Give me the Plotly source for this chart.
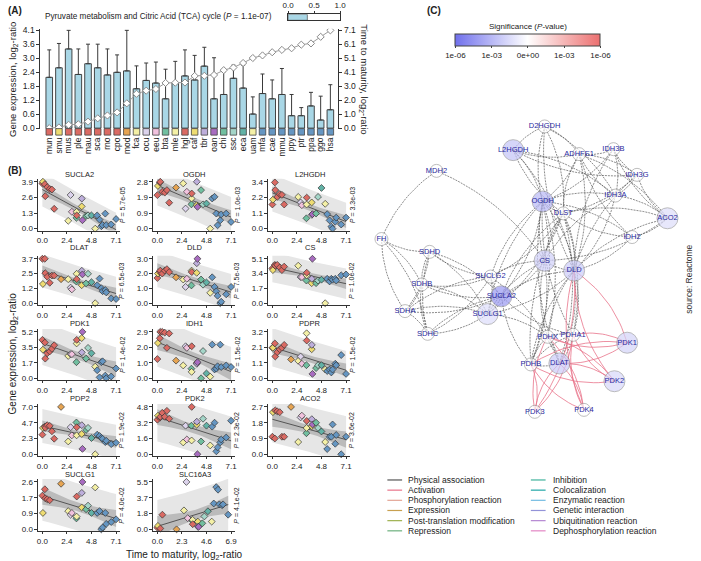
import numpy as np
import plotly.graph_objects as go

W, H = 701, 561
FONT = "Liberation Sans, Arial, Helvetica, sans-serif"
TXT = "#222222"

# ---------------- data: panel A ----------------
species = ["mun", "smu", "mus", "ple", "mau", "sca", "rno", "cpo", "mod", "fca",
           "ocu", "eeu", "bta", "mle", "hgl", "caf", "tbr", "oan", "chi", "ssc",
           "eca", "uam", "mfa", "cae", "mmu", "ppy", "ptr", "ppa", "ggo", "hsa"]
RED, YEL, ORA, LYE = "#DA6A63", "#EEDC72", "#E6A452", "#F4F0A6"
PLAV, PNK, TGR, LAV = "#DCD3EC", "#F1C2DE", "#71BFA0", "#BDAEDB"
PUR, LTE, TEA, BLU = "#A86CC0", "#A4D5C8", "#62B2A6", "#6596C2"
species_color = [RED, YEL, RED, RED, RED, RED, RED, RED, ORA, LYE,
                 PLAV, PNK, TGR, LYE, RED, YEL, LAV, PUR, TGR, LTE,
                 TEA, LYE, BLU, BLU, BLU, BLU, BLU, BLU, BLU, BLU]
expr_mean = [2.13, 2.53, 3.32, 2.25, 2.70, 2.53, 2.23, 2.34, 2.40, 1.65,
             2.00, 1.89, 1.23, 1.91, 2.19, 2.02, 2.60, 1.23, 1.41, 2.09,
             1.68, 0.59, 1.45, 1.23, 1.41, 0.52, 0.52, 0.93, 0.34, 0.77]
expr_upper = [3.28, 3.55, 4.10, 3.32, 3.52, 3.52, 3.32, 3.07, 4.10, 2.61,
              2.73, 2.77, 2.47, 2.80, 3.28, 3.05, 3.39, 2.95, 2.36, 2.64,
              2.64, 1.31, 2.27, 2.02, 2.50, 1.41, 0.86, 1.50, 1.34, 1.82]
maturity = [0.00, 0.05, 0.24, 0.28, 0.47, 0.71, 0.92, 1.14, 1.80, 2.49,
            2.72, 2.84, 3.28, 3.30, 3.31, 3.79, 3.80, 3.86, 4.21, 4.40,
            4.73, 5.09, 5.28, 5.51, 5.68, 5.80, 6.06, 6.15, 6.63, 7.10]
expr_ticks = ["0.0", "0.6", "1.2", "1.8", "2.4", "3.0", "3.6", "4.1"]
maturity_ticks = ["0.0", "1.0", "2.0", "3.0", "4.1", "5.1", "6.1", "7.1"]
pathway_title = "Pyruvate metabolism and Citric Acid (TCA) cycle"
pathway_p = "1.1e-07"
gauge_fraction = 0.37
gauge_ticks = ["0.0", "0.5", "1.0"]

# ---------------- data: panel B ----------------
genes = ["SUCLA2", "OGDH", "L2HGDH", "DLAT", "DLD", "CS", "PDK1", "IDH1",
         "PDPR", "PDP2", "PDK2", "ACO2", "SUCLG1", "SLC16A3"]
gene_p = ["5.7e-05", "1.0e-03", "3.3e-03", "6.5e-03", "7.5e-03", "1.0e-02", "1.4e-02",
          "1.5e-02", "1.5e-02", "1.9e-02", "2.3e-02", "3.6e-02", "4.0e-02", "4.1e-02"]
gene_yticks = [["0.0", "1.3", "2.6", "3.9"], ["0.0", "0.9", "1.9", "2.8"], ["0.0", "1.1", "2.2", "3.4"],
               ["0.0", "1.2", "2.5", "3.7"], ["0.0", "1.0", "2.0", "3.0"], ["0.0", "1.7", "3.4", "5.1"],
               ["0.0", "1.7", "3.5", "5.2"], ["0.0", "1.0", "2.0", "2.9"], ["0.0", "1.1", "2.1", "3.2"],
               ["0.0", "2.3", "4.7", "7.0"], ["0.0", "1.6", "3.2", "4.8"], ["0.0", "0.9", "1.8", "2.7"],
               ["0.0", "0.9", "1.7", "2.6"], ["0.0", "1.8", "3.7", "5.5"]]
xticks_default = ["0.0", "2.4", "4.8", "7.1"]
xticks_slc = ["0.0", "2.3", "4.6", "6.9"]

expr_SUCLA2 = [3.75, 3.9, 3.7, 2.7, 3.45, 3.3, 3.25, 1.65, None, 0.65, 2.8, 1.4, 0.9, 1.4, 1.1,
               1.85, 2.5, 0.7, 1.05, 1.1, 1.1, 0.0, 1.1, 0.75, 0.2, 0.3, 1.25, 0.3, 0.35, 0.8]
expr_OGDH = [2.0, 2.55, 2.75, 2.8, 2.2, 2.15, 2.3, 1.55, 2.45, 2.7, 1.2, 2.2, 1.45, 1.8, 2.1,
             1.4, 2.8, 1.3, 2.3, 1.45, 1.5, 0.0, 1.8, 1.9, 0.9, 0.2, 0.5, 0.85, 0.9, 0.4]
expr_L2HGDH = [1.75, 2.1, 3.35, 2.8, 2.3, 2.5, 2.45, 1.75, None, 2.3, 1.9, 1.7, 0.75, 1.75, 2.25,
               1.9, 1.0, 1.05, 1.1, 2.3, 2.95, 1.8, 1.05, 0.6, 0.15, 0.0, 0.5, 0.8, 0.3, 0.8]
expr_DLAT = [3.7, 1.6, 3.7, 2.5, 2.2, 1.7, 2.3, 2.3, 2.0, 2.0, 1.3, 1.15, 1.8, 2.45, 2.0,
             1.5, 2.7, 2.4, 1.65, 2.45, 1.75, 0.0, 1.5, 2.05, 1.25, 1.0, 1.1, 0.9, 0.4, 0.35]
expr_DLD = [1.7, 2.0, 2.1, 2.2, 2.0, 2.2, 2.3, 2.1, 1.75, 1.6, 1.1, 1.65, 1.2, 2.2, 2.1,
            2.05, 2.7, 3.0, 1.6, 1.25, 1.4, 0.7, 1.75, 1.1, 0.8, 0.5, 0.0, 0.1, 0.6, 1.1]
expr_CS = [4.0, 3.8, 4.4, 4.3, 4.4, 4.1, 3.8, 4.2, None, 4.3, 3.0, 3.0, 2.6, 3.2, 3.5,
           2.3, 2.8, 5.1, 2.3, 2.6, 2.7, 0.0, 2.8, 2.5, 2.8, 2.7, 2.8, 2.6, 3.2, 3.3]
expr_PDK1 = [4.3, 3.2, 4.0, 2.2, 2.8, 3.0, 3.3, 3.7, None, 2.5, 2.7, 2.7, 1.8, 3.9, 4.3,
             4.5, 2.9, 5.2, 2.2, 3.4, 2.8, 1.3, 0.9, 0.1, 1.8, 1.9, 0.3, 0.0, 0.2, 1.1]
expr_IDH1 = [1.2, 2.2, 2.5, 2.9, 2.9, 2.85, 1.9, 2.8, 1.1, 0.8, 2.0, 1.9, 0.6, 0.4, 2.0,
             0.95, 0.9, 1.0, 0.0, 1.7, 0.3, 0.1, 2.1, 0.55, 0.6, 0.75, 2.1, 0.7, 0.8, 0.7]
expr_PDPR = [2.1, 2.1, 2.4, 1.5, 1.8, 2.0, 2.1, 2.3, 1.3, 1.2, 1.5, 1.0, 0.9, 3.1, 2.6,
             2.0, 2.3, 0.3, 0.7, 0.9, 0.9, 0.6, 0.5, 0.6, 0.4, 0.6, 1.0, 0.9, 1.6, 0.3]
expr_PDP2 = [2.9, 3.9, 4.1, 3.9, 4.3, 4.2, 3.4, 2.3, 7.0, 1.9, 4.0, 2.8, 4.7, 2.8, 4.0,
             3.0, 4.3, 0.8, 3.6, 3.9, 2.4, 0.0, 2.9, 2.7, 2.4, 2.3, 1.8, 2.0, 1.5, 1.7]
expr_PDK2 = [3.5, 3.9, 3.7, 3.8, 4.2, 3.8, 4.4, 3.6, None, 1.2, 2.9, 1.5, 2.9, 1.4, 4.8,
             3.0, 3.3, 0.0, 1.3, 3.6, 2.9, 0.9, 2.8, 3.2, 0.3, 0.7, 1.2, 1.5, 1.7, 3.4]
expr_ACO2 = [1.0, 2.4, 0.9, 2.5, 2.45, 2.4, 1.0, 1.0, 2.7, 0.7, 2.1, 2.2, 1.2, 1.5, 1.9,
             1.6, 2.0, 1.7, 1.8, 1.5, 1.3, 0.7, 0.3, 1.0, 1.0, 1.7, 0.6, 1.1, 0.0, 1.0]
expr_SUCLG1 = [1.85, 0.9, 2.2, 1.7, 1.65, 1.6, None, None, 2.5, 1.0, 0.8, 0.9, 0.6, 0.7, 1.8,
               1.2, 2.0, 2.6, 1.1, 1.3, 0.9, 2.3, 0.9, 1.0, 0.0, 0.1, 0.9, 0.3, 0.4, 0.55]
expr_SLC16A3 = [0.2, 0.4, None, 0.1, 1.7, None, None, None, 0.0, 2.2, 5.5, 1.3, 1.0, 1.1, 0.6,
                0.9, 0.3, 0.3, 0.7, 1.5, 2.1, 0.9, 3.0, 4.9, 4.6, 2.9, 2.8, 2.9, 1.7, None]
gene_expr = [expr_SUCLA2, expr_OGDH, expr_L2HGDH, expr_DLAT, expr_DLD, expr_CS, expr_PDK1,
             expr_IDH1, expr_PDPR, expr_PDP2, expr_PDK2, expr_ACO2, expr_SUCLG1, expr_SLC16A3]

# ---------------- data: panel C ----------------
node_names = ["D2HGDH", "L2HGDH", "ADHFE1", "IDH3B", "IDH3G", "IDH3A", "OGDH", "DLST", "ACO2",
              "IDH2", "MDH2", "FH", "SDHD", "CS", "DLD", "SUCLG2", "SDHB", "SUCLA2", "SDHA",
              "SUCLG1", "SDHC", "PDHX", "PDHA1", "PDK1", "PDHB", "DLAT", "PDK2", "PDK3", "PDK4"]
node_x = [548, 516, 583, 618, 642, 620, 546, 567, 673, 637, 438, 382, 431, 548, 578, 493, 423,
          504, 406, 490, 429, 551, 577, 632, 534, 563, 619, 538, 588]
node_y = [125, 149, 153, 148, 174, 195, 201, 213, 218, 237, 170, 239, 252, 261, 271, 277, 285,
          297, 312, 315, 335, 338, 336, 344, 366, 365, 383, 414, 412]
edges_physical = [
    ("MDH2", "FH"), ("MDH2", "CS"), ("FH", "SDHD"), ("FH", "SDHB"), ("FH", "SDHA"), ("FH", "SDHC"),
    ("SDHD", "SDHB"), ("SDHD", "SDHA"), ("SDHD", "SDHC"), ("SDHB", "SDHA"), ("SDHB", "SDHC"),
    ("SDHA", "SDHC"), ("SDHD", "SUCLG2"), ("SDHD", "SUCLA2"), ("SDHB", "SUCLA2"), ("SDHB", "SUCLG1"),
    ("SDHA", "SUCLA2"), ("SDHA", "SUCLG1"), ("SDHC", "SUCLG1"), ("SDHC", "SUCLA2"), ("SDHB", "SUCLG2"),
    ("SDHA", "SUCLG2"), ("SDHC", "SUCLG2"), ("SDHD", "SUCLG1"), ("SUCLG2", "SUCLA2"),
    ("SUCLG2", "SUCLG1"), ("SUCLG1", "SUCLA2"), ("SUCLG2", "OGDH"), ("SUCLA2", "OGDH"),
    ("SUCLG1", "OGDH"), ("SUCLG2", "DLST"), ("SUCLA2", "DLST"), ("SUCLG1", "DLST"), ("SUCLA2", "DLD"),
    ("SUCLG1", "DLD"), ("SUCLG2", "CS"), ("SUCLA2", "CS"), ("SUCLG1", "CS"), ("SUCLA2", "PDHB"),
    ("SUCLG1", "PDHX"), ("SUCLA2", "PDHA1"), ("SUCLG2", "DLAT"), ("D2HGDH", "L2HGDH"),
    ("D2HGDH", "ADHFE1"), ("D2HGDH", "OGDH"), ("D2HGDH", "DLST"), ("D2HGDH", "DLD"),
    ("D2HGDH", "IDH3A"), ("L2HGDH", "ADHFE1"), ("L2HGDH", "OGDH"), ("L2HGDH", "DLST"),
    ("L2HGDH", "IDH3A"), ("L2HGDH", "IDH3G"), ("L2HGDH", "DLD"), ("ADHFE1", "IDH3B"),
    ("ADHFE1", "IDH3G"), ("ADHFE1", "IDH3A"), ("ADHFE1", "OGDH"), ("ADHFE1", "DLST"),
    ("ADHFE1", "ACO2"), ("ADHFE1", "IDH2"), ("ADHFE1", "DLD"), ("IDH3B", "IDH3G"), ("IDH3B", "IDH3A"),
    ("IDH3B", "ACO2"), ("IDH3B", "OGDH"), ("IDH3B", "DLD"), ("IDH3G", "IDH3A"), ("IDH3G", "ACO2"),
    ("IDH3G", "DLST"), ("IDH3G", "DLD"), ("IDH3A", "ACO2"), ("IDH3A", "OGDH"), ("IDH3A", "DLD"),
    ("IDH3A", "CS"), ("ACO2", "IDH2"), ("ACO2", "DLD"), ("ACO2", "CS"), ("ACO2", "DLST"),
    ("IDH2", "DLST"), ("IDH2", "OGDH"), ("IDH2", "DLD"), ("OGDH", "DLST"), ("OGDH", "DLD"),
    ("OGDH", "CS"), ("OGDH", "PDHB"), ("OGDH", "DLAT"), ("OGDH", "PDHX"), ("OGDH", "PDHA1"),
    ("DLST", "DLD"), ("DLST", "CS"), ("DLST", "PDHA1"), ("DLST", "PDHB"), ("DLST", "DLAT"),
    ("CS", "DLD"), ("CS", "PDHB"), ("CS", "PDHX"), ("DLD", "PDHA1"), ("DLD", "PDHX"), ("DLD", "DLAT"),
    ("DLD", "PDHB"), ("PDHX", "PDHA1"), ("PDHX", "PDHB"), ("PDHX", "DLAT"), ("PDHA1", "PDHB"),
    ("PDHA1", "DLAT"), ("PDHB", "DLAT")]
edges_activation = [(k, t) for k in ["PDK1", "PDK2", "PDK3", "PDK4"]
                    for t in ["PDHA1", "PDHX", "PDHB", "DLAT", "DLD"]]
legend_col1 = ["Physical association", "Activation", "Phosphorylation reaction", "Expression",
               "Post-translation modification", "Repression"]
legend_col1_colors = ["#555555", "#E8738A", "#E3A595", "#C8A050", "#9DB04E", "#6DB07E"]
legend_col2 = ["Inhibition", "Colocalization", "Enzymatic reaction", "Genetic interaction",
               "Ubiquitination reaction", "Dephosphorylation reaction"]
legend_col2_colors = ["#3FB39C", "#1FA6A6", "#73BCE2", "#9393D8", "#B486D2", "#E386C4"]
sig_ticks = ["1e-06", "1e-03", "0e+00", "1e-03", "1e-06"]

# ---------------- helpers ----------------
def fx(p):
    return p / W


def fy(p):
    return 1 - p / H


fig = go.Figure()
layout = dict(width=W, height=H, margin=dict(l=0, r=0, t=0, b=0), showlegend=False,
              paper_bgcolor="white", plot_bgcolor="rgba(0,0,0,0)",
              font=dict(family=FONT, size=8, color=TXT))
annotations = []
shapes = []


def ann(text, x, y, size=8, angle=0, xanchor="center", bold=False, color=TXT, yshift=0):
    if bold:
        text = "<b>" + text + "</b>"
    annotations.append(dict(text=text, x=fx(x), y=fy(y), xref="paper", yref="paper",
                            showarrow=False, textangle=angle, xanchor=xanchor, yanchor="middle",
                            yshift=yshift, font=dict(size=size, color=color, family=FONT)))


axis_base = dict(showgrid=False, zeroline=False, showline=True, linecolor="#333333",
                 linewidth=1, ticks="outside", ticklen=3, tickwidth=1, tickcolor="#333333",
                 tickfont=dict(size=8, color=TXT, family=FONT))

# ---------------- panel A ----------------
n = len(species)
idx = list(range(n))
xa_range = [-0.913, 29.81]
ya_range = [-0.054, 4.17]
scale_r = 7.1 / 4.1
layout["xaxis"] = dict(domain=[fx(35), fx(338)], range=xa_range, visible=False, anchor="y")
layout["yaxis"] = dict(axis_base, domain=[fy(128), fy(26)], range=ya_range, anchor="x",
                       tickvals=[4.1 * j / 7 for j in range(8)], ticktext=expr_ticks,
                       tickfont=dict(size=8.5, color=TXT, family=FONT))
layout["yaxis2"] = dict(axis_base, overlaying="y", side="right", anchor="x",
                        range=[v * scale_r for v in ya_range],
                        tickvals=[7.1 * j / 7 for j in range(8)], ticktext=maturity_ticks,
                        tickfont=dict(size=8.5, color=TXT, family=FONT))
fig.add_trace(go.Bar(x=idx, y=expr_mean, width=0.68, xaxis="x", yaxis="y",
                     marker=dict(color="#A9D7E6", line=dict(color="#333333", width=0.9)),
                     error_y=dict(type="data", symmetric=False,
                                  array=[u - m for u, m in zip(expr_upper, expr_mean)],
                                  arrayminus=[0] * n, color="#3A3A3A", thickness=1, width=2)))
fig.add_trace(go.Scatter(x=idx, y=maturity, xaxis="x", yaxis="y2", mode="lines+markers",
                         line=dict(color="#9A9A9A", width=1),
                         marker=dict(symbol="diamond", size=5.5, color="white",
                                     line=dict(color="#8A8A8A", width=1))))
# species colour strip + labels
layout["xaxis2"] = dict(domain=[fx(35), fx(338)], range=xa_range, anchor="y3", showgrid=False,
                        zeroline=False, showline=False, ticks="", tickvals=idx, ticktext=species,
                        tickangle=-90, tickfont=dict(size=8.5, color=TXT, family=FONT))
layout["yaxis3"] = dict(domain=[fy(133.5), fy(127.5)], range=[0, 1], visible=False, anchor="x2")
fig.add_trace(go.Scatter(x=idx, y=[0.5] * n, xaxis="x2", yaxis="y3", mode="markers",
                         cliponaxis=False,
                         marker=dict(symbol="square", size=6.5, color=species_color,
                                     line=dict(color="#444444", width=0.8))))
# gauge
layout["xaxis3"] = dict(axis_base, domain=[fx(287), fx(340)], range=[0, 1], anchor="y4",
                        side="top", mirror=True, tickvals=[0, 0.5, 1], ticktext=gauge_ticks,
                        ticklen=2, tickfont=dict(size=8, color=TXT, family=FONT))
layout["yaxis4"] = dict(domain=[fy(17.5), fy(11.5)], range=[0, 1], anchor="x3", showgrid=False,
                        zeroline=False, showline=True, mirror=True, linecolor="#333333",
                        showticklabels=False, ticks="")
fig.add_trace(go.Bar(x=[gauge_fraction], y=[0.5], base=0, width=1, orientation="h",
                     xaxis="x3", yaxis="y4",
                     marker=dict(color="#A9D7E6", line=dict(color="#333333", width=0.6))))
ann("(A)", 9, 8, size=10, bold=True)
ann(pathway_title + " (<i>P</i> = " + pathway_p + ")", 155, 14, size=8.2)
ann("Gene expression, log<sub>2</sub>-ratio", 7, 77, size=9.5, angle=-90)
ann("Time to maturity, log<sub>2</sub>-ratio", 364, 77, size=9.5, angle=90)

# ---------------- panel B ----------------
row_T = [181, 259, 333, 409, 485]
row_Z = [228.5, 304, 380, 457, 533]
row_title = [174, 248, 325, 400, 477]
T_Q = 2.05
ann("(B)", 9, 170, size=10, bold=True)
for g, gene in enumerate(genes):
    r, c = divmod(g, 3)
    xn = 4 + g
    yn = 5 + g
    xt = xticks_slc if gene == "SLC16A3" else xticks_default
    xmax = float(xt[-1])
    k = 75.0 / xmax
    yt = gene_yticks[g]
    ymax = float(yt[-1])
    T, Z = row_T[r], row_Z[r]
    s = (Z - T) / ymax
    xk, yk = "x%d" % xn, "y%d" % yn
    layout["xaxis%d" % xn] = dict(axis_base, domain=[fx(33 + 117 * c), fx(116 + 117 * c)],
                                  range=[-4 / k, xmax + 4 / k], anchor=yk, ticklen=2,
                                  tickvals=[xmax * j / 3 for j in range(4)], ticktext=xt)
    layout["yaxis%d" % yn] = dict(axis_base, domain=[fy(Z + 2), fy(T - 3)],
                                  range=[-2 / s, ymax + 3 / s], anchor=xk,
                                  tickvals=[ymax * j / 3 for j in range(4)], ticktext=yt)
    vals = gene_expr[g]
    px_ = np.array([maturity[i] for i in range(n) if vals[i] is not None])
    py_ = np.array([vals[i] for i in range(n) if vals[i] is not None], dtype=float)
    cols = [species_color[i] for i in range(n) if vals[i] is not None]
    b, a = np.polyfit(px_, py_, 1)
    m = len(px_)
    resid = py_ - (a + b * px_)
    sd = np.sqrt(np.sum(resid ** 2) / (m - 2))
    xm = px_.mean()
    sxx = np.sum((px_ - xm) ** 2)
    xg = np.linspace(px_.min(), px_.max(), 60)
    yg = a + b * xg
    se_c = sd * np.sqrt(1 / m + (xg - xm) ** 2 / sxx)
    se_p = sd * np.sqrt(1 + 1 / m + (xg - xm) ** 2 / sxx)
    for se, colr in ((se_p, "#E6E6E6"), (se_c, "#BBBBBB")):
        fig.add_trace(go.Scatter(x=np.concatenate([xg, xg[::-1]]),
                                 y=np.concatenate([yg + T_Q * se, (yg - T_Q * se)[::-1]]),
                                 fill="toself", fillcolor=colr, mode="lines",
                                 line=dict(width=0, color=colr), xaxis=xk, yaxis=yk,
                                 hoverinfo="skip"))
    fig.add_trace(go.Scatter(x=xg, y=yg, mode="lines", line=dict(color="#555555", width=1),
                             xaxis=xk, yaxis=yk))
    fig.add_trace(go.Scatter(x=px_, y=py_, mode="markers", xaxis=xk, yaxis=yk, cliponaxis=False,
                             marker=dict(symbol="diamond", size=5.3, color=cols,
                                         line=dict(color="#333333", width=0.7))))
    ann(gene, 75 + 117 * c, row_title[r], size=7.5)
    ann("<i>P</i> = " + gene_p[g], 118 + 117 * c, (T + Z) / 2, size=7, angle=-90)
ann("Gene expression, log<sub>2</sub>-ratio", 7, 355, size=10, angle=-90)
ann("Time to maturity, log<sub>2</sub>-ratio", 182, 556, size=10, yshift=-3)

# ---------------- panel C ----------------
pos = {nm: (x, y) for nm, x, y in zip(node_names, node_x, node_y)}
p_lookup = dict(zip(genes, gene_p))
node_val = [np.log10(float(p_lookup[nm])) if nm in p_lookup else 0.0 for nm in node_names]
node_size = [21 if nm in p_lookup else 13 for nm in node_names]


def curves(edge_list, bend):
    xs, ys = [], []
    t = np.linspace(0, 1, 18)
    for e, (u, v) in enumerate(edge_list):
        x0, y0 = pos[u]
        x1, y1 = pos[v]
        bsign = bend if e % 2 == 0 else -bend
        cx = (x0 + x1) / 2 - bsign * (y1 - y0)
        cy = (y0 + y1) / 2 + bsign * (x1 - x0)
        xs += list((1 - t) ** 2 * x0 + 2 * (1 - t) * t * cx + t ** 2 * x1) + [None]
        ys += list((1 - t) ** 2 * y0 + 2 * (1 - t) * t * cy + t ** 2 * y1) + [None]
    return xs, ys


layout["xaxis18"] = dict(domain=[fx(350), 1], range=[350, 701], visible=False, anchor="y19")
layout["yaxis19"] = dict(domain=[0, 1], range=[561, 0], visible=False, anchor="x18")
ex, ey = curves(edges_physical, 0.15)
fig.add_trace(go.Scatter(x=ex, y=ey, mode="lines", xaxis="x18", yaxis="y19",
                         line=dict(color="#5A5A5A", width=0.7, dash="2px,1px"), hoverinfo="skip"))
ex, ey = curves(edges_activation, 0.18)
fig.add_trace(go.Scatter(x=ex, y=ey, mode="lines", xaxis="x18", yaxis="y19",
                         line=dict(color=legend_col1_colors[1], width=0.8), hoverinfo="skip"))
fig.add_trace(go.Scatter(
    x=node_x, y=node_y, mode="markers+text", text=node_names, xaxis="x18", yaxis="y19",
    cliponaxis=False, textposition="middle center",
    textfont=dict(size=7.5, color="#2828A0", family=FONT),
    marker=dict(size=node_size, color=node_val, cmin=-6, cmax=6,
                colorscale=[[0, "#7070EC"], [0.5, "#FFFFFF"], [1, "#EC7070"]],
                line=dict(color="#8A8A8A", width=0.8), showscale=True,
                colorbar=dict(orientation="h", x=fx(531), xanchor="center", y=fy(31),
                              yanchor="top", len=145, lenmode="pixels", thickness=12,
                              thicknessmode="pixels", tickvals=[-6, -3, 0, 3, 6],
                              ticktext=sig_ticks, ticks="outside", ticklen=2,
                              outlinecolor="#444444", outlinewidth=1, xpad=0, ypad=0,
                              tickfont=dict(size=8, color=TXT, family=FONT)))))
ann("Significance (<i>P</i>-value)", 531, 24, size=8)
ann("(C)", 435, 8, size=10, bold=True)
ann("source: Reactome", 694, 280, size=8.5, angle=-90, color="#333333")
for i, (lab, col) in enumerate(zip(legend_col1, legend_col1_colors)):
    yy = 483 + 10.3 * i
    shapes.append(dict(type="line", xref="paper", yref="paper", x0=fx(388), x1=fx(403),
                       y0=fy(yy), y1=fy(yy), line=dict(color=col, width=1.2)))
    ann(lab, 407, yy, size=8.5, xanchor="left")
for i, (lab, col) in enumerate(zip(legend_col2, legend_col2_colors)):
    yy = 483 + 10.3 * i
    shapes.append(dict(type="line", xref="paper", yref="paper", x0=fx(534), x1=fx(549),
                       y0=fy(yy), y1=fy(yy), line=dict(color=col, width=1.2)))
    ann(lab, 554, yy, size=8.5, xanchor="left")

layout["annotations"] = annotations
layout["shapes"] = shapes
fig.update_layout(**layout)
fig.write_html("out.html", config={"displayModeBar": False},
               post_script="document.body.style.margin='0';document.body.style.overflow='hidden';")
